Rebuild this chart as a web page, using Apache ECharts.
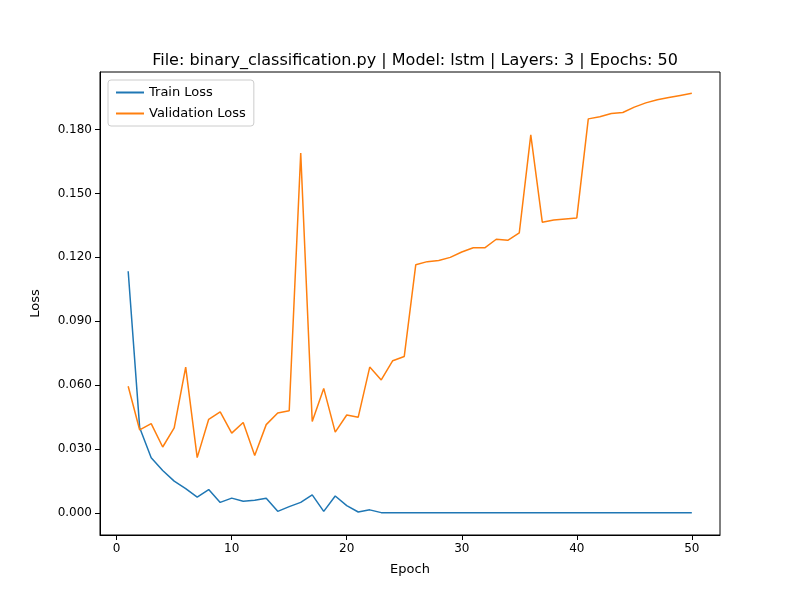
<!DOCTYPE html>
<html><head><meta charset="utf-8">
<script src="https://cdn.jsdelivr.net/npm/echarts@6/dist/echarts.min.js"></script>
<style>html,body{margin:0;background:#fff}#c{width:800px;height:600px}</style>
</head><body><div id="c"></div>
<script>
const epochs = Array.from({length:50},(_,i)=>i+1);
const trainLoss = [0.1135,0.040,0.026,0.020,0.015,0.0115,0.0075,0.011,0.005,0.007,0.0055,0.006,0.007,0.0008,0.003,0.005,0.0085,0.0008,0.008,0.0035,0.0005,0.0015,0.0002,0.0001,0.0001,0.0001,0.0001,0.0001,0.0001,0.0001,0.0001,0.0001,0.0001,0.0001,0.0001,0.0001,0.0001,0.0001,0.0001,0.0001,0.0001,0.0001,0.0001,0.0001,0.0001,0.0001,0.0001,0.0001,0.0001,0.0001];
const valLoss = [0.0595,0.039,0.042,0.031,0.040,0.0685,0.026,0.044,0.0475,0.0375,0.0425,0.027,0.0415,0.047,0.048,0.169,0.043,0.0585,0.038,0.046,0.045,0.0685,0.0625,0.0715,0.0735,0.1165,0.118,0.1185,0.120,0.1225,0.1245,0.1245,0.1285,0.128,0.1315,0.1775,0.1365,0.1375,0.138,0.1385,0.185,0.186,0.1875,0.188,0.1905,0.1925,0.194,0.195,0.196,0.197];
const chart = echarts.init(document.getElementById('c'));
const font = 'DejaVu Sans';
chart.setOption({
  animation:false,
  textStyle:{fontFamily:font},
  title:{text:'File: binary_classification.py | Model: lstm | Layers: 3 | Epochs: 50',left:410,top:48,textAlign:'center',textStyle:{fontFamily:font,fontSize:16,fontWeight:'normal',color:'#000'}},
  legend:{left:108,top:80,orient:'vertical',itemWidth:28,itemHeight:2,itemGap:8,borderColor:'#ccc',borderWidth:1,borderRadius:3,padding:[6,8],
    textStyle:{fontFamily:font,fontSize:13,color:'#000'},data:[{name:'Train Loss',icon:'rect'},{name:'Validation Loss',icon:'rect'}]},
  grid:{left:100,right:80,top:72,bottom:65,show:true,borderColor:'#000',borderWidth:1},
  xAxis:{type:'value',min:-1.45,max:52.45,splitNumber:5,name:'Epoch',nameLocation:'middle',nameGap:28,nameTextStyle:{fontFamily:font,fontSize:13,color:'#000'},
    axisLine:{onZero:false,lineStyle:{color:'#000'}},axisTick:{show:true,lineStyle:{color:'#000'}},splitLine:{show:false},
    axisLabel:{showMinLabel:false,showMaxLabel:false,fontFamily:font,fontSize:12,color:'#000'}},
  yAxis:{type:'value',min:-0.0103,max:0.207,splitNumber:8,name:'Loss',nameLocation:'middle',nameGap:58,nameTextStyle:{fontFamily:font,fontSize:13,color:'#000'},
    axisLine:{show:true,onZero:false,lineStyle:{color:'#000'}},axisTick:{show:true,lineStyle:{color:'#000'}},splitLine:{show:false},
    axisLabel:{showMinLabel:false,showMaxLabel:false,fontFamily:font,fontSize:12,color:'#000',formatter:v=>v.toFixed(3)}},
  series:[
    {name:'Train Loss',type:'line',data:epochs.map((e,i)=>[e,trainLoss[i]]),showSymbol:false,lineStyle:{color:'#1f77b4',width:1.5},itemStyle:{color:'#1f77b4'}},
    {name:'Validation Loss',type:'line',data:epochs.map((e,i)=>[e,valLoss[i]]),showSymbol:false,lineStyle:{color:'#ff7f0e',width:1.5},itemStyle:{color:'#ff7f0e'}}
  ]
});
</script></body></html>
